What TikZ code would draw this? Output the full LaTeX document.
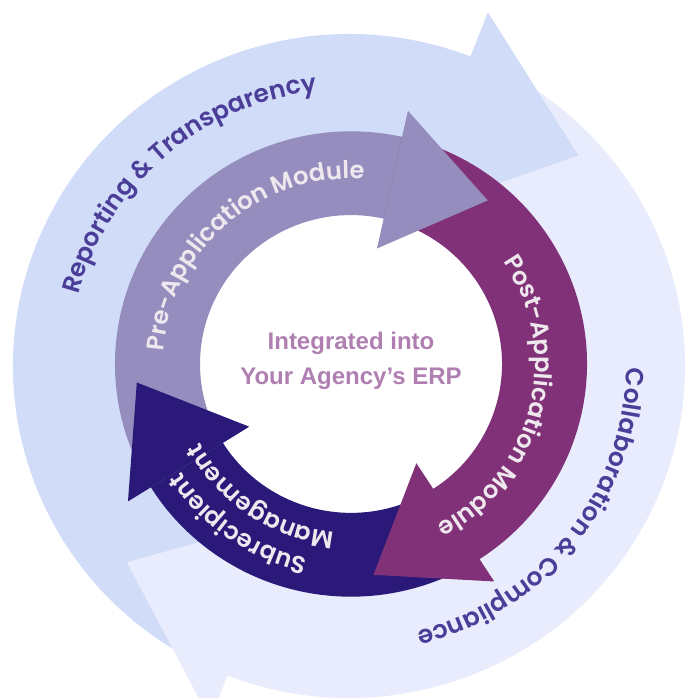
\documentclass[tikz,border=0pt]{standalone}
\usepackage{fontspec}
\usetikzlibrary{decorations.text}
\IfFontExistsTF{Poppins SemiBold}{\newfontfamily\ringfont{Poppins SemiBold}}{\newfontfamily\ringfontX{Poppins}\newcommand\ringfont{\ringfontX\bfseries}}
\newfontfamily\centerfont{Liberation Sans}
\definecolor{obl}{HTML}{D0DCF8}
\definecolor{olv}{HTML}{E8ECFC}
\definecolor{cpre}{HTML}{948DBE}
\definecolor{cpost}{HTML}{813178}
\definecolor{csub}{HTML}{2A1978}
\definecolor{otext}{HTML}{4B3E99}
\definecolor{itext}{HTML}{EEE8EE}
\definecolor{ctext}{HTML}{B07FB1}
\tikzset{
  ringtext/.style={decorate, decoration={text along path, text align=center, text={#1}}},
}
\newcommand\outfmt{\ringfont\fontsize{25}{25}\selectfont\color{otext}}
\newcommand\infmt{\ringfont\fontsize{24.3}{24.3}\selectfont\color{itext}}
\begin{document}
\begin{tikzpicture}[x=1pt,y=1pt]
\useasboundingbox (0,0) rectangle (689,698);
\clip (0,0) rectangle (689,698);
% ---------------- outer ring ----------------
\begin{scope}[shift={(349,332)}, yscale=0.988]
  % bands
  \fill[olv] (248.8:336) arc[start angle=248.8, end angle=428.8, radius=336]
     -- (428.8:200) arc[start angle=428.8, end angle=248.8, radius=200] -- cycle;
  \fill[obl] (68.8:336) arc[start angle=68.8, end angle=248.8, radius=336]
     -- (248.8:200) arc[start angle=248.8, end angle=68.8, radius=200] -- cycle;
  % arrowheads
  \fill[obl] (68.8:384) -- (42.9:313) -- (68.8:164) -- cycle;
  \fill[olv] (248.8:384) -- (221.8:298) -- (248.8:164) -- cycle;
  % labels
  \path[ringtext={|\outfmt|Reporting {\&} Transparency}]
     (200:280) arc[start angle=200, end angle=62, radius=280];
  \path[ringtext={|\outfmt|Collaboration {\&} Compliance}]
     (31:277) arc[start angle=31, end angle=-107, radius=277];
\end{scope}
% ---------------- inner ring ----------------
\begin{scope}[shift={(351,334)}, yscale=0.986]
  \fill[cpre] (212:236) arc[start angle=212, end angle=77.5, radius=236]
     -- (77.5:151) arc[start angle=77.5, end angle=212, radius=151] -- cycle;
  \fill[cpost] (77.5:236) arc[start angle=77.5, end angle=-57, radius=236]
     -- (-57:151) arc[start angle=-57, end angle=77.5, radius=151] -- cycle;
  \fill[csub] (-57:236) arc[start angle=-57, end angle=-148, radius=236]
     -- (-148:151) arc[start angle=-148, end angle=-57, radius=151] -- cycle;
  % arrowheads
  \fill[cpre] (77.5:263) -- (50.5:215) -- (77.5:120) -- cycle;
  \fill[cpost] (-57:263) -- (-84:215) -- (-57:120) -- cycle;
  \fill[csub] (212:263) -- (185:215) -- (212:120) -- cycle;
  % labels
  \path[ringtext={|\infmt|Pre-Application Module}]
     (181:188) arc[start angle=181, end angle=81, radius=188];
  \path[ringtext={|\infmt|Post-Application Module}]
     (36:184) arc[start angle=36, end angle=-64, radius=184];
  \path[ringtext={|\infmt|Subrecipient}]
     (290:202) arc[start angle=290, end angle=180, radius=202];
  \path[ringtext={|\infmt|Management}]
     (291:171) arc[start angle=291, end angle=181, radius=171];
\end{scope}
% ---------------- centre ----------------
\node[align=center, text=ctext, font=\centerfont\bfseries\fontsize{24}{35}\selectfont]
  (centre) at (351,337) {Integrated into\\Your Agency’s ERP};
\end{tikzpicture}
\end{document}
